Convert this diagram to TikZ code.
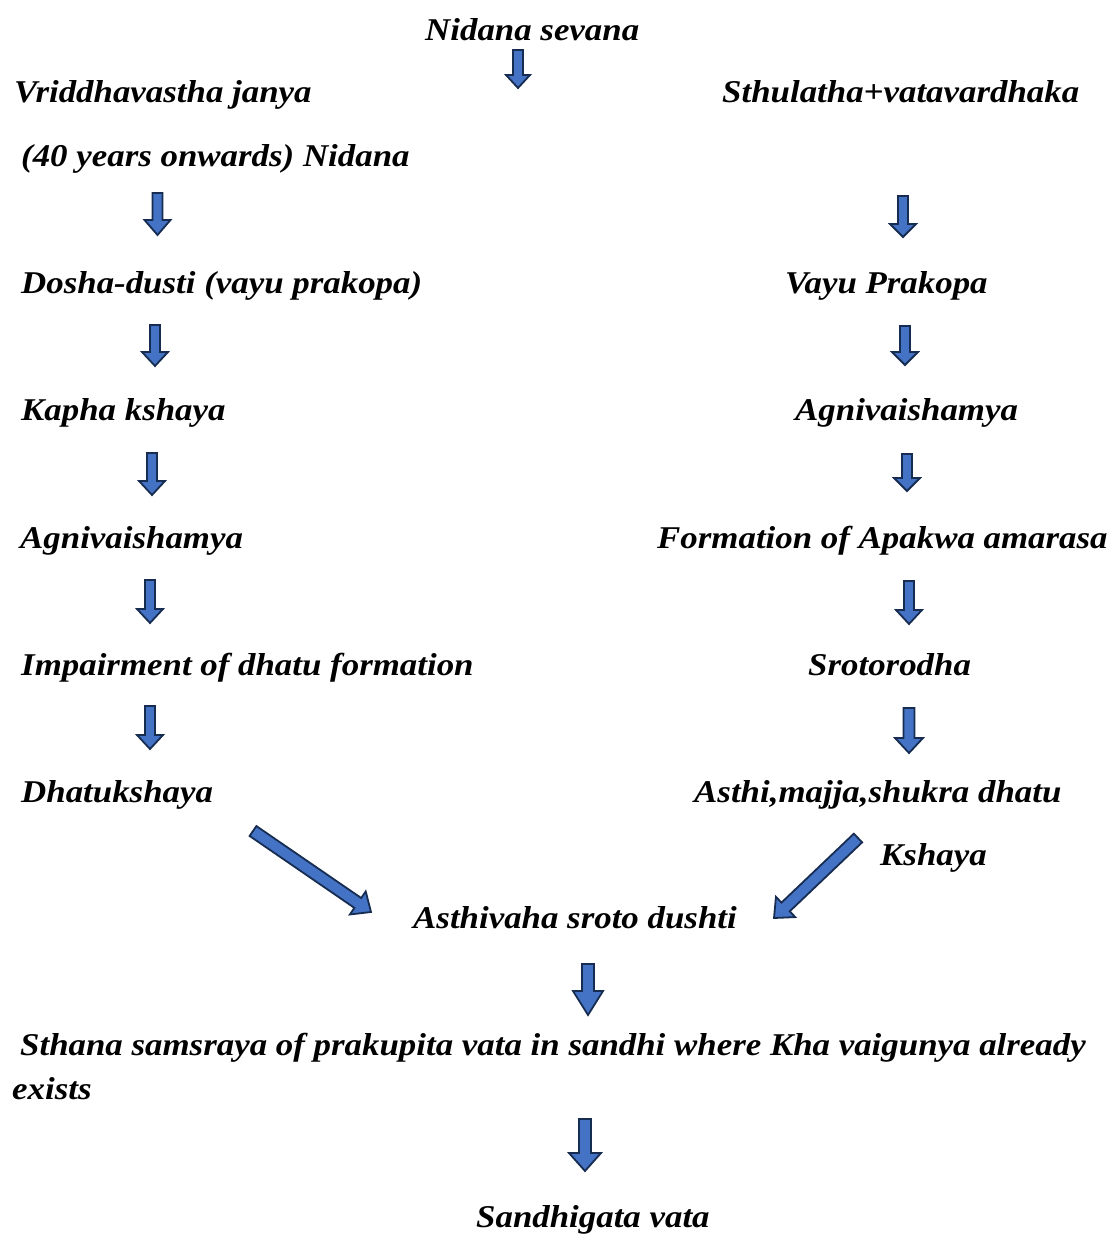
\documentclass[tikz,border=0pt]{standalone}
\usepackage{fontspec}
\setmainfont[FakeStretch=1.1]{Liberation Serif}
\usetikzlibrary{calc}
\definecolor{arrfill}{HTML}{4472C4}
\definecolor{arrline}{HTML}{172C51}
\tikzset{
  lbl/.style={anchor=base west, inner sep=0pt, font=\fontsize{31.7}{44}\selectfont\bfseries\itshape},
  barrow/.style={fill=arrfill, draw=arrline, line width=1.8pt, line join=miter},
}
% #1 tail, #2 tip, #3 shaft half width, #4 head half width, #5 head length (pt)
\newcommand\blockarrow[5]{%
  \draw[barrow] let \p1=(#1), \p2=(#2),
      \n1={atan2(\y2-\y1,\x2-\x1)},
      \n2={veclen(\x2-\x1,\y2-\y1)-#5} in
    ($(\p1)+({\n1+90}:#3)$) --
    ($(\p1)+(\n1:\n2)+({\n1+90}:#3)$) --
    ($(\p1)+(\n1:\n2)+({\n1+90}:#4)$) --
    (\p2) --
    ($(\p1)+(\n1:\n2)+({\n1-90}:#4)$) --
    ($(\p1)+(\n1:\n2)+({\n1-90}:#3)$) --
    ($(\p1)+({\n1-90}:#3)$) -- cycle;}
\begin{document}
\begin{tikzpicture}[x=1pt,y=-1pt]
\useasboundingbox (0,0) rectangle (1112,1234);
% texts
\node[lbl] (nid) at (425,40) {Nidana sevana};
\node[lbl] (vri) at (14,102) {Vriddhavastha janya};
\node[lbl] (sth) at (722,102) {Sthulatha+vatavardhaka};
\node[lbl] (yrs) at (21,166) {(40 years onwards) Nidana};
\node[lbl] (dos) at (21,293) {Dosha-dusti (vayu prakopa)};
\node[lbl] (vay) at (785,293) {Vayu Prakopa};
\node[lbl] (kap) at (21,420) {Kapha kshaya};
\node[lbl] (agr) at (795,420) {Agnivaishamya};
\node[lbl] (agl) at (20,548) {Agnivaishamya};
\node[lbl] (for) at (657,548) {Formation of Apakwa amarasa};
\node[lbl] (imp) at (21,675) {Impairment of dhatu formation};
\node[lbl] (sro) at (808,675) {Srotorodha};
\node[lbl] (dha) at (21,802) {Dhatukshaya};
\node[lbl] (ast) at (694,802) {Asthi,majja,shukra dhatu};
\node[lbl] (ksh) at (880,865) {Kshaya};
\node[lbl] (asv) at (413,928) {Asthivaha sroto dushti};
\node[lbl] (sha) at (20,1055) {Sthana samsraya of prakupita vata in sandhi where Kha vaigunya already};
\node[lbl] (exi) at (12,1099) {exists};
\node[lbl] (san) at (476,1227) {Sandhigata vata};
% arrow end points
\coordinate (a1s) at (518,50);   \coordinate (a1e) at (518,88);
\coordinate (a2s) at (157.5,193); \coordinate (a2e) at (157.5,235);
\coordinate (a3s) at (155,325);  \coordinate (a3e) at (155,366);
\coordinate (a4s) at (152,453);  \coordinate (a4e) at (152,495);
\coordinate (a5s) at (150,580);  \coordinate (a5e) at (150,623);
\coordinate (a6s) at (150,706);  \coordinate (a6e) at (150,749);
\coordinate (b1s) at (903,196);  \coordinate (b1e) at (903,237);
\coordinate (b2s) at (905,326);  \coordinate (b2e) at (905,365);
\coordinate (b3s) at (907,454);  \coordinate (b3e) at (907,491);
\coordinate (b4s) at (909,581);  \coordinate (b4e) at (909,624);
\coordinate (b5s) at (909,708);  \coordinate (b5e) at (909,753);
\coordinate (c1s) at (253,831);  \coordinate (c1e) at (371,912);
\coordinate (c2s) at (858,838);  \coordinate (c2e) at (774,918);
\coordinate (d1s) at (588,964);  \coordinate (d1e) at (588,1015);
\coordinate (d2s) at (585,1119); \coordinate (d2e) at (585,1171);
% arrows
\blockarrow{a1s}{a1e}{5pt}{12pt}{13}
\blockarrow{a2s}{a2e}{5pt}{13pt}{15}
\blockarrow{a3s}{a3e}{5pt}{13pt}{14}
\blockarrow{a4s}{a4e}{5pt}{13pt}{14}
\blockarrow{a5s}{a5e}{5pt}{13pt}{14}
\blockarrow{a6s}{a6e}{5pt}{13pt}{14}
\blockarrow{b1s}{b1e}{5pt}{13pt}{13}
\blockarrow{b2s}{b2e}{5pt}{13pt}{13}
\blockarrow{b3s}{b3e}{5pt}{13pt}{13}
\blockarrow{b4s}{b4e}{5pt}{13pt}{14}
\blockarrow{b5s}{b5e}{5.5pt}{14pt}{15}
\blockarrow{c1s}{c1e}{6pt}{14pt}{16}
\blockarrow{c2s}{c2e}{6pt}{14pt}{16}
\blockarrow{d1s}{d1e}{6pt}{15pt}{24}
\blockarrow{d2s}{d2e}{6pt}{16pt}{18}
\end{tikzpicture}
\end{document}
